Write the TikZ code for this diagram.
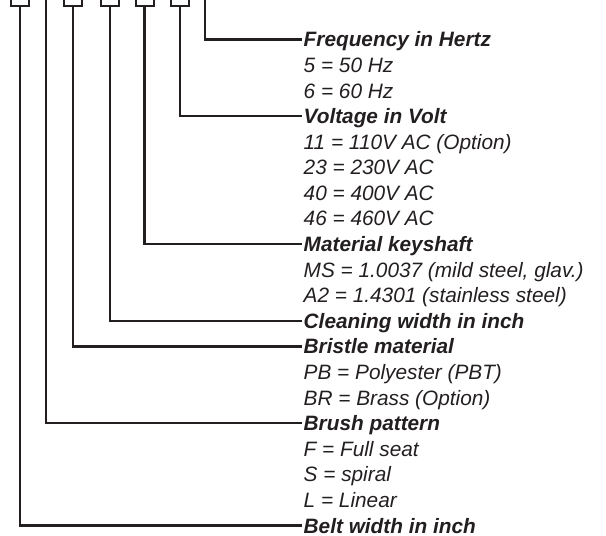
\documentclass[tikz,border=0pt]{standalone}
\usepackage{fontspec}
\setmainfont{Liberation Sans}
\definecolor{ink}{HTML}{231F20}
\begin{document}
\begin{tikzpicture}[x=1pt,y=-1pt,
  wire/.style={draw=ink, line width=2.4pt},
  pin/.style={draw=ink, line width=2pt, minimum width=18pt, minimum height=20pt, inner sep=0pt, anchor=south},
  lbl/.style={anchor=west, inner xsep=1.5pt, inner ysep=0pt, text height=15pt, text depth=0pt, text=ink},
  head/.style={lbl, font=\fontsize{20.8}{24}\selectfont\bfseries\itshape},
  item/.style={lbl, font=\fontsize{20.8}{24}\selectfont\itshape}]
\useasboundingbox (0,0) rectangle (606,536);
% pins at top
\node[pin] (p1) at (19.8,7) {};
\coordinate (p2) at (46.2,-2);
\node[pin] (p3) at (72.8,7) {};
\node[pin] (p4) at (109.7,7) {};
\node[pin] (p5) at (144.5,7) {};
\node[pin] (p6) at (180,7) {};
\coordinate (p7) at (204.7,-2);
% labels
\node[head] (freq) at (302,39.3) {Frequency in Hertz};
\node[item] (f5) at (302,64.9) {5 = 50 Hz};
\node[item] (f6) at (302,90.5) {6 = 60 Hz};
\node[head] (volt) at (302,116.1) {Voltage in Volt};
\node[item] (v11) at (302,141.7) {11 = 110V AC (Option)};
\node[item] (v23) at (302,167.3) {23 = 230V AC};
\node[item] (v40) at (302,192.8) {40 = 400V AC};
\node[item] (v46) at (302,218.4) {46 = 460V AC};
\node[head] (mat) at (302,244.0) {Material keyshaft};
\node[item] (ms) at (302,269.6) {MS = 1.0037 (mild steel, glav.)};
\node[item] (a2) at (302,295.2) {A2 = 1.4301 (stainless steel)};
\node[head] (clean) at (302,320.8) {Cleaning width in inch};
\node[head] (bris) at (302,346.4) {Bristle material};
\node[item] (pb) at (302,372.0) {PB = Polyester (PBT)};
\node[item] (br) at (302,397.6) {BR = Brass (Option)};
\node[head] (brush) at (302,423.2) {Brush pattern};
\node[item] (ff) at (302,448.8) {F = Full seat};
\node[item] (ss) at (302,474.3) {S = spiral};
\node[item] (ll) at (302,499.9) {L = Linear};
\node[head] (belt) at (302,525.5) {Belt width in inch};
% connectors
\draw[wire] (p7) |- (freq.west);
\draw[wire] (p6.south) |- (volt.west);
\draw[wire] (p5.south) |- (mat.west);
\draw[wire] (p4.south) |- (clean.west);
\draw[wire] (p3.south) |- (bris.west);
\draw[wire] (p2) |- (brush.west);
\draw[wire] (p1.south) |- (belt.west);
\end{tikzpicture}
\end{document}
